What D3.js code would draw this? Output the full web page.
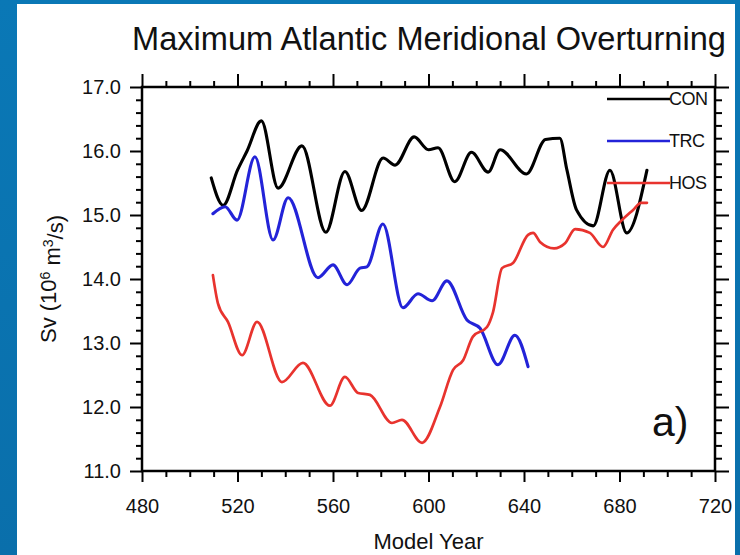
<!DOCTYPE html>
<html>
<head>
<meta charset="utf-8">
<script src="https://cdn.jsdelivr.net/npm/d3@7"></script>
<style>
  html, body { margin: 0; padding: 0; background: #0a74b0; }
  svg { display: block; }
  text { font-family: "Liberation Sans", Arial, Helvetica, sans-serif; fill: #111; }
</style>
</head>
<body>
<svg id="chart" width="740" height="555"></svg>
<script>
// ---- data ----
const conYears  = [509, 514, 520, 524, 530, 537, 547, 557, 565, 572, 581, 586, 594, 600, 604, 611, 618, 625, 630, 641, 649, 655, 658, 662, 669, 676, 683, 691.5];
const conValues = [15.58, 15.15, 15.70, 16.00, 16.47, 15.42, 16.08, 14.73, 15.68, 15.07, 15.89, 15.78, 16.22, 16.02, 16.05, 15.52, 15.98, 15.67, 16.02, 15.64, 16.18, 16.20, 15.70, 15.08, 14.83, 15.70, 14.72, 15.70];

const trcYears  = [509.7, 514.8, 519.8, 527.3, 534.9, 541.2, 553.7, 560, 565.9, 571.3, 574.2, 580.9, 589.3, 595.6, 601.5, 607.7, 616.1, 621.6, 629.1, 636.2, 641.7];
const trcValues = [15.02, 15.13, 14.92, 15.91, 14.61, 15.27, 14.02, 14.22, 13.91, 14.17, 14.19, 14.86, 13.55, 13.77, 13.66, 13.97, 13.36, 13.23, 12.66, 13.12, 12.63];

const hosYears  = [509.7, 511.8, 516, 521.9, 528.2, 538.6, 547.4, 558.7, 565, 570.5, 575.5, 584.7, 588.9, 597.3, 604.8, 610.3, 614.5, 618.6, 624.5, 627, 630.8, 635.4, 641.7, 643.8, 646.7, 652.6, 657.2, 661.4, 667.6, 673.1, 677.3, 681, 685.7, 689, 691.5];
const hosValues = [14.06, 13.62, 13.33, 12.81, 13.33, 12.39, 12.69, 12.02, 12.47, 12.22, 12.19, 11.75, 11.80, 11.44, 12.00, 12.58, 12.73, 13.10, 13.25, 13.48, 14.17, 14.25, 14.69, 14.72, 14.58, 14.48, 14.56, 14.78, 14.72, 14.50, 14.77, 14.92, 15.08, 15.19, 15.19];

const seriesNames  = ["CON", "TRC", "HOS"];
const seriesColors = ["#000000", "#2323d8", "#e8332e"];

const xMajorTicks = [480, 520, 560, 600, 640, 680, 720];
const yMajorTicks = [11, 12, 13, 14, 15, 16, 17];

const titleText = "Maximum Atlantic Meridional Overturning";
const xTitle = "Model Year";
const panelLabel = "a)";

// ---- layout ----
const svg = d3.select("#chart");
const L = 142, R = 715, T = 87, B = 471;

// background: blue border with white panel
const defs = svg.append("defs");
const grad = defs.append("linearGradient").attr("id", "bg").attr("x1", 0).attr("y1", 0).attr("x2", 0).attr("y2", 1);
grad.append("stop").attr("offset", "0%").attr("stop-color", "#0a78b6");
grad.append("stop").attr("offset", "100%").attr("stop-color", "#0a6fab");
svg.append("rect").attr("width", 740).attr("height", 555).attr("fill", "url(#bg)");
svg.append("rect").attr("x", 17).attr("y", 4).attr("width", 718).attr("height", 560).attr("fill", "#ffffff");

const x = d3.scaleLinear().domain([480, 720]).range([L, R]);
const y = d3.scaleLinear().domain([11, 17]).range([B, T]);

const xMinor = d3.range(480, 721, 10).filter(v => v % 40 !== 0);
const yMinor = d3.range(110, 171, 2).map(v => v / 10).filter(v => Math.abs(v - Math.round(v)) > 1e-6);

function styleAxis(g) {
  g.select(".domain").remove();
  g.selectAll(".tick line").attr("stroke", "#000").attr("stroke-width", 2);
}

// major ticks + labels
svg.append("g").attr("transform", `translate(0,${B})`)
  .call(d3.axisBottom(x).tickValues(xMajorTicks).tickSize(11).tickPadding(17).tickFormat(d3.format("d")))
  .call(styleAxis)
  .selectAll("text").style("font-size", "20px").attr("fill", "#111");
svg.append("g").attr("transform", `translate(${L},0)`)
  .call(d3.axisLeft(y).tickValues(yMajorTicks).tickSize(12).tickPadding(9).tickFormat(d3.format(".1f")))
  .call(styleAxis)
  .selectAll("text").style("font-size", "20px").attr("fill", "#111");
svg.append("g").attr("transform", `translate(0,${T})`)
  .call(d3.axisTop(x).tickValues(xMajorTicks).tickSize(13).tickFormat(""))
  .call(styleAxis);
svg.append("g").attr("transform", `translate(${R},0)`)
  .call(d3.axisRight(y).tickValues(yMajorTicks).tickSize(14).tickFormat(""))
  .call(styleAxis);

// minor ticks
svg.append("g").attr("transform", `translate(0,${B})`)
  .call(d3.axisBottom(x).tickValues(xMinor).tickSize(6).tickFormat("")).call(styleAxis);
svg.append("g").attr("transform", `translate(0,${T})`)
  .call(d3.axisTop(x).tickValues(xMinor).tickSize(6).tickFormat("")).call(styleAxis);
svg.append("g").attr("transform", `translate(${L},0)`)
  .call(d3.axisLeft(y).tickValues(yMinor).tickSize(6).tickFormat("")).call(styleAxis);
svg.append("g").attr("transform", `translate(${R},0)`)
  .call(d3.axisRight(y).tickValues(yMinor).tickSize(7).tickFormat("")).call(styleAxis);

// frame
svg.append("rect").attr("x", L).attr("y", T).attr("width", R - L).attr("height", B - T)
  .attr("fill", "none").attr("stroke", "#000").attr("stroke-width", 2.5);

// lines
const line = d3.line().x(d => x(d[0])).y(d => y(d[1])).curve(d3.curveMonotoneX);
const seriesData = [
  d3.zip(conYears, conValues),
  d3.zip(trcYears, trcValues),
  d3.zip(hosYears, hosValues)
];
const widths = [3.1, 3.1, 2.7];
seriesData.forEach((d, i) => {
  svg.append("path").datum(d).attr("d", line)
    .attr("fill", "none").attr("stroke", seriesColors[i])
    .attr("stroke-width", widths[i]).attr("stroke-linejoin", "round").attr("stroke-linecap", "round");
});

// legend
const legY = [99, 141, 183];
seriesNames.forEach((n, i) => {
  svg.append("line").attr("x1", 607).attr("x2", 670).attr("y1", legY[i]).attr("y2", legY[i])
    .attr("stroke", seriesColors[i]).attr("stroke-width", 2.6);
  svg.append("text").attr("x", 669).attr("y", legY[i]).attr("dy", "0.36em")
    .style("font-size", "18px").style("letter-spacing", "-0.5px").text(n);
});

// panel label
svg.append("text").attr("x", 652).attr("y", 436).style("font-size", "41px").text(panelLabel);

// title
svg.append("text").attr("x", (L + R) / 2 + 0.5).attr("y", 50).attr("text-anchor", "middle")
  .style("font-size", "32.6px").text(titleText);

// x title
svg.append("text").attr("x", (L + R) / 2).attr("y", 549).attr("text-anchor", "middle")
  .style("font-size", "22px").text(xTitle);

// y title with superscripts
const yt = svg.append("text").attr("transform", `translate(56,${(T + B) / 2}) rotate(-90)`)
  .attr("text-anchor", "middle").style("font-size", "22px");
yt.append("tspan").text("Sv (10");
yt.append("tspan").attr("dy", "-0.45em").style("font-size", "14px").text("6");
yt.append("tspan").attr("dy", "0.45em").text(" m");
yt.append("tspan").attr("dy", "-0.45em").style("font-size", "14px").text("3");
yt.append("tspan").attr("dy", "0.45em").text("/s)");
</script>
</body>
</html>
